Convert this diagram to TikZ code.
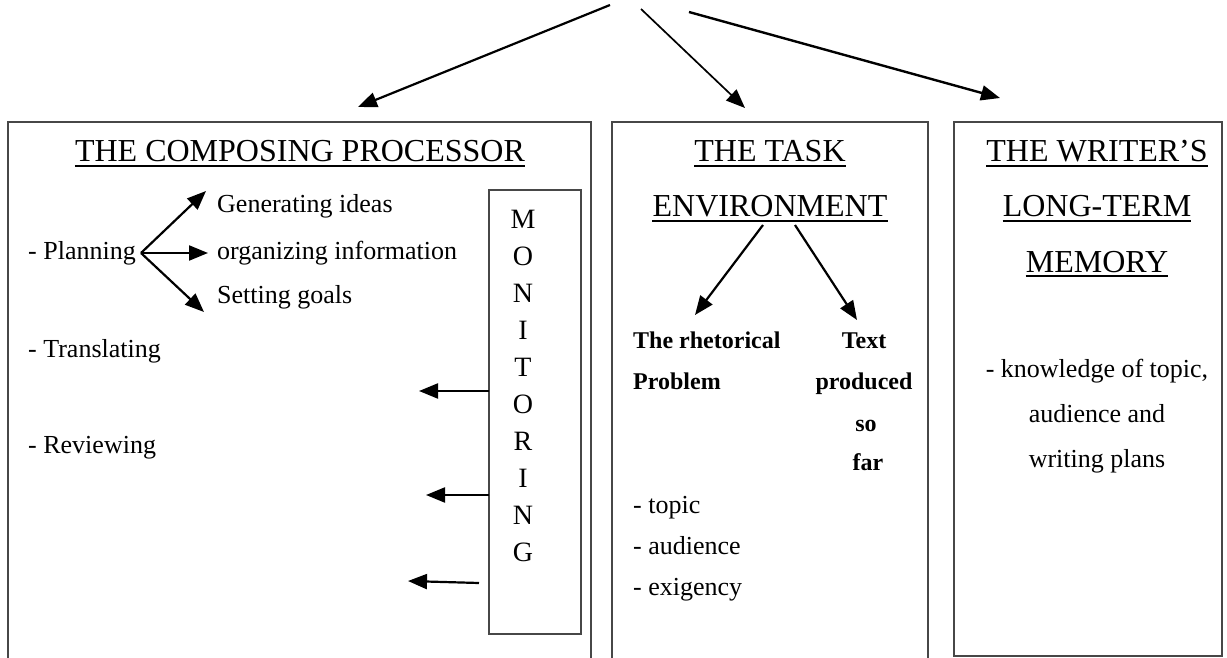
\documentclass[tikz,border=0pt]{standalone}
\usepackage{fontspec}
\setmainfont{Liberation Serif}
\usetikzlibrary{arrows.meta,calc}
\begin{document}
\begin{tikzpicture}[x=1pt,y=-1pt,
  box/.style={draw=black!72,line width=1.4pt},
  ttl/.style={font=\fontsize{32}{38}\selectfont,inner sep=0pt,anchor=base},
  txt/.style={font=\fontsize{26}{30}\selectfont,inner sep=0pt,anchor=base west},
  ctxt/.style={font=\fontsize{26}{30}\selectfont,inner sep=0pt,anchor=base},
  bld/.style={font=\fontsize{24}{28}\selectfont\bfseries,inner sep=0pt,anchor=base west},
  cbld/.style={font=\fontsize{24}{28}\selectfont\bfseries,inner sep=0pt,anchor=base},
  mon/.style={font=\fontsize{28}{34}\selectfont,inner sep=0pt,anchor=base},
  arr/.style={-{Triangle[length=19pt,width=15pt]},line width=2.2pt},
  ul/.style={line width=1.6pt}]
\useasboundingbox (0,0) rectangle (1227,658);

% boxes
\draw[box] (8,658) -- (8,122) -- (591,122) -- (591,658);
\draw[box] (612,658) -- (612,122) -- (928,122) -- (928,658);
\draw[box] (954,122) rectangle (1222,656);
\draw[box] (489,190) rectangle (581,634);

% titles
\node[ttl] (t1) at (300,162) {THE COMPOSING PROCESSOR};
\node[ttl] (t2) at (770,162) {THE TASK};
\node[ttl] (t3) at (770,217) {ENVIRONMENT};
\node[ttl] (t4) at (1097,162) {THE WRITER’S};
\node[ttl] (t5) at (1097,217) {LONG-TERM};
\node[ttl] (t6) at (1097,272) {MEMORY};
\foreach \n in {t1,t2,t3,t4,t5,t6}{
  \draw[ul] ($(\n.base west)+(0,4)$) -- ($(\n.base east)+(0,4)$);
}

% top arrows
\coordinate (s1) at (610,5);
\coordinate (s2) at (641,9);
\coordinate (s3) at (689,12);
\coordinate (e1) at (358,107);
\coordinate (e2) at (745,108);
\coordinate (e3) at (1000,98);
\draw[arr] (s1) -- (e1);
\draw[arr,line width=1.7pt] (s2) -- (e2);
\draw[arr,line width=2.4pt] (s3) -- (e3);

% composing processor
\node[txt] (plan) at (28,259) {- Planning};
\node[txt] (gen) at (217,212) {Generating ideas};
\node[txt] (org) at (217,259) {organizing information};
\node[txt] (set) at (217,303) {Setting goals};
\node[txt] (trans) at (28,357) {- Translating};
\node[txt] (rev) at (28,453) {- Reviewing};
\coordinate (po) at (141,253);
\coordinate (pg) at (206,191);
\coordinate (pr) at (208,253);
\coordinate (ps) at (204,312);
\draw[arr] (po) -- (pg);
\draw[arr] (po) -- (pr);
\draw[arr] (po) -- (ps);

% monitoring letters
\foreach \l [count=\i] in {M,O,N,I,T,O,R,I,N,G}{
  \node[mon] (m\i) at (523,{228+37*(\i-1)}) {\l};
}
\coordinate (ma1) at (489,391);
\coordinate (mb1) at (419,391);
\coordinate (ma2) at (489,495);
\coordinate (mb2) at (426,495);
\coordinate (ma3) at (479,583);
\coordinate (mb3) at (408,581);
\draw[arr] (ma1) -- (mb1);
\draw[arr] (ma2) -- (mb2);
\draw[arr] (ma3) -- (mb3);

% task environment
\coordinate (ea) at (763,225);
\coordinate (eb) at (795,225);
\coordinate (ra) at (695,315);
\coordinate (rb) at (857,320);
\draw[arr] (ea) -- (ra);
\draw[arr] (eb) -- (rb);
\node[bld] (rhet) at (633,348) {The rhetorical};
\node[bld] (prob) at (633,389) {Problem};
\node[cbld] (tx1) at (864,348) {Text};
\node[cbld] (tx2) at (864,389) {produced};
\node[cbld] (tx3) at (866,431) {so};
\node[cbld] (tx4) at (868,470) {far};
\node[txt] (top) at (633,513) {- topic};
\node[txt] (aud) at (633,554) {- audience};
\node[txt] (exi) at (633,595) {- exigency};

% long-term memory
\node[ctxt] (k1) at (1097,377) {- knowledge of topic,};
\node[ctxt] (k2) at (1097,422) {audience and};
\node[ctxt] (k3) at (1097,467) {writing plans};
\end{tikzpicture}
\end{document}
